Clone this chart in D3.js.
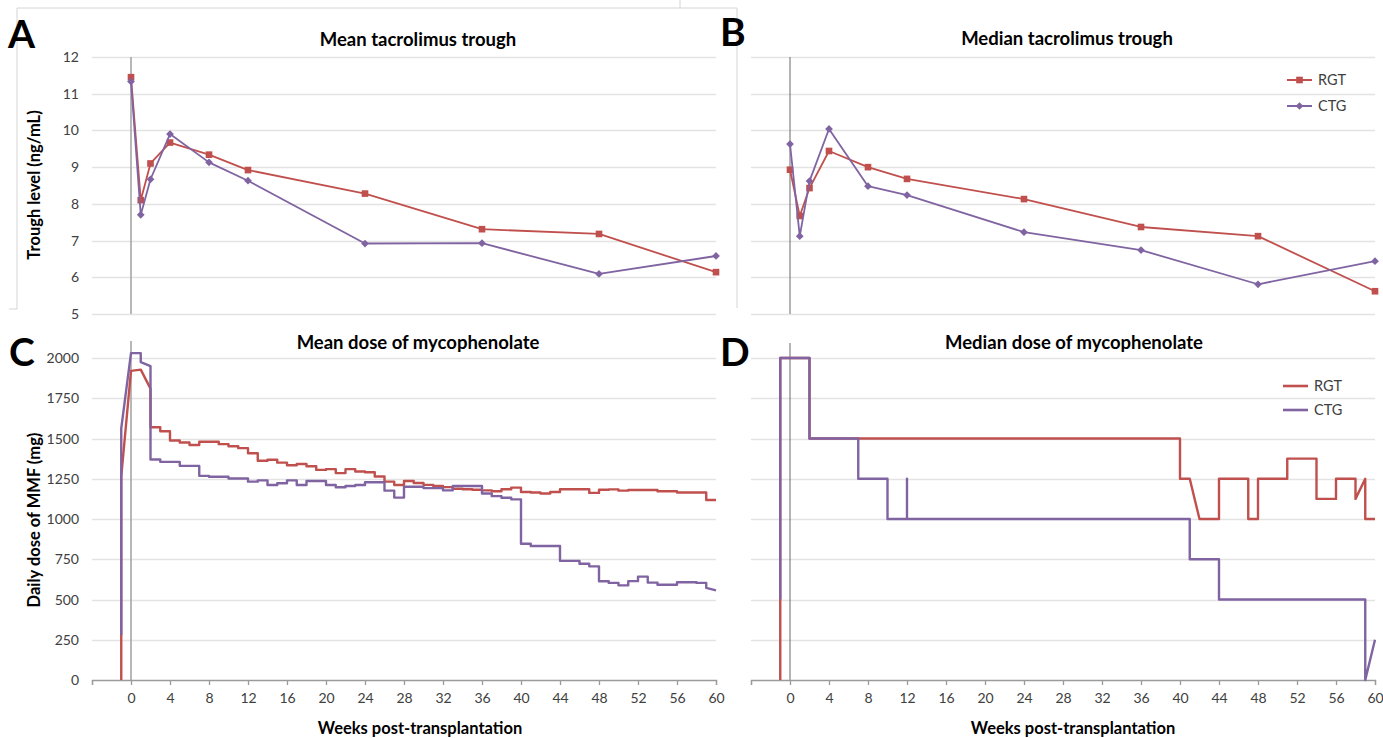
<!DOCTYPE html>
<html>
<head>
<meta charset="utf-8">
<script src="https://cdn.jsdelivr.net/npm/d3@7"></script>
<style>
  body { margin: 0; background: #fff; }
  text { font-family: Lato, "Open Sans", sans-serif; }
</style>
</head>
<body>
<div id="chart"></div>
<script>
// trough data (weeks post-transplantation)
const troughWeeks = [0, 1, 2, 4, 8, 12, 24, 36, 48, 60];
const rgtMeanTrough = [11.45, 8.1, 9.1, 9.67, 9.34, 8.92, 8.28, 7.31, 7.18, 6.14];
const ctgMeanTrough = [11.33, 7.7, 8.67, 9.9, 9.13, 8.63, 6.92, 6.93, 6.09, 6.58];
const rgtMedianTrough = [8.93, 7.67, 8.43, 9.44, 9.0, 8.68, 8.13, 7.37, 7.12, 5.62];
const ctgMedianTrough = [9.63, 7.12, 8.62, 10.04, 8.48, 8.24, 7.23, 6.74, 5.81, 6.44];
const troughTicks = [5, 6, 7, 8, 9, 10, 11, 12];

// mean MMF dose: first weeks as points, then one value per week (week 2 .. 58)
const rgtMeanDoseHead = [[-1, 0], [-1, 1265], [0, 1920], [1, 1928], [2, 1810]];
const ctgMeanDoseHead = [[-1, 280], [-1, 1563], [0, 2030], [1, 2030], [1, 1975], [2, 1950]];
const rgtMeanDoseWeekly = [1570, 1545, 1488, 1475, 1460, 1480, 1480, 1465, 1452, 1440, 1408, 1362, 1368, 1350, 1334, 1342, 1328, 1305, 1310, 1285,
  1310, 1295, 1290, 1264, 1232, 1211, 1236, 1224, 1212, 1205, 1198, 1188, 1185, 1182, 1178, 1172, 1185, 1195, 1168, 1165,
  1158, 1168, 1185, 1185, 1185, 1162, 1182, 1184, 1176, 1180, 1180, 1180, 1172, 1172, 1165, 1165, 1165];
const ctgMeanDoseWeekly = [1370, 1355, 1355, 1330, 1330, 1268, 1262, 1262, 1252, 1252, 1232, 1240, 1211, 1222, 1240, 1211, 1236, 1236, 1211, 1197,
  1205, 1211, 1228, 1228, 1176, 1133, 1200, 1200, 1192, 1192, 1178, 1205, 1205, 1205, 1158, 1142, 1132, 1122, 846, 832,
  832, 832, 740, 740, 722, 706, 613, 603, 588, 614, 642, 605, 592, 592, 607, 607, 603];
const rgtMeanDoseTail = [[59, 1118], [60, 1118]];
const ctgMeanDoseTail = [[59, 572], [60, 557]];

// median MMF dose
const rgtMedianDoseWeeks = [-1, -1, 2, 2, 40, 40, 41, 42, 44, 44, 47, 47, 48, 48, 51, 51, 54, 54, 56, 56, 58, 58, 59, 59, 60];
const rgtMedianDose = [0, 2000, 2000, 1500, 1500, 1250, 1250, 1000, 1000, 1250, 1250, 1000, 1000, 1250, 1250, 1375, 1375, 1125, 1125, 1250, 1250, 1125, 1250, 1000, 1000];
const ctgMedianDoseWeeks = [-1, -1, 2, 2, 7, 7, 10, 10, 12, 12, 12, 41, 41, 44, 44, 59, 59, 60];
const ctgMedianDose = [500, 2000, 2000, 1500, 1500, 1250, 1250, 1000, 1000, 1250, 1000, 1000, 750, 750, 500, 500, 0, 250];
const doseTicks = [0, 250, 500, 750, 1000, 1250, 1500, 1750, 2000];
const weekTicks = [-4, 0, 4, 8, 12, 16, 20, 24, 28, 32, 36, 40, 44, 48, 52, 56, 60];

const RED = "#c0504d", PURPLE = "#8064a2";

const svg = d3.select("#chart").append("svg")
  .attr("width", 1383).attr("height", 738)
  .style("background", "#fff");

// faint frame lines around panel A
const frame = svg.append("g").attr("stroke", "#d4d4d4").attr("fill", "none");
frame.append("path").attr("d", "M17,309 V8 H737 V308");
frame.append("path").attr("d", "M9,309 H17");
frame.append("path").attr("d", "M680,0 V8");

const xLeft = d3.scaleLinear().domain([-4, 60]).range([92, 716]);
const xRight = d3.scaleLinear().domain([-4, 60]).range([751, 1375]);
const yTrough = d3.scaleLinear().domain([5, 12]).range([314, 57]);
const yDose = d3.scaleLinear().domain([0, 2000]).range([680, 358]);

function stepPoints(head, weekly, tail) {
  let pts = head.slice();
  weekly.forEach((v, i) => {
    let w = 2 + i;
    pts.push([w, v], [w + 1, v]);
  });
  return pts.concat(tail);
}

function zip(weeks, vals) {
  return weeks.map((w, i) => [w, vals[i]]);
}

function grid(x, y, ticks) {
  svg.append("g").selectAll("line").data(ticks).enter().append("line")
    .attr("x1", x.range()[0]).attr("x2", x.range()[1])
    .attr("y1", d => Math.round(y(d)) + 0.5).attr("y2", d => Math.round(y(d)) + 0.5)
    .attr("stroke", "#e3e3e3").attr("stroke-width", 1.3);
}

function yLabels(y, ticks) {
  svg.append("g").selectAll("text").data(ticks).enter().append("text")
    .attr("x", 79).attr("y", d => y(d)).attr("dy", "0.36em")
    .attr("text-anchor", "end").attr("font-size", 14).attr("fill", "#404040")
    .text(d => d);
}

function zeroLine(x, y1, y2, color, w) {
  svg.append("line").attr("x1", x(0)).attr("x2", x(0)).attr("y1", y1).attr("y2", y2)
    .attr("stroke", color).attr("stroke-width", w);
}

function xAxis(x) {
  let g = svg.append("g").attr("transform", "translate(0," + yDose(0) + ")")
    .call(d3.axisBottom(x).tickValues(weekTicks).tickSizeOuter(0).tickSize(5).tickPadding(8)
      .tickFormat(d => d < 0 ? "" : d));
  g.select(".domain").attr("stroke", "#9a9a9a").attr("stroke-width", 1.3);
  g.selectAll(".tick line").attr("stroke", "#9a9a9a").attr("stroke-width", 1.3);
  g.selectAll(".tick text").attr("font-size", 14).attr("fill", "#404040")
    .attr("font-family", "Lato, sans-serif");
}

function series(x, y, pts, color, width, marker) {
  svg.append("path").datum(pts)
    .attr("fill", "none").attr("stroke", color).attr("stroke-width", width)
    .attr("stroke-linejoin", "round")
    .attr("d", d3.line().x(d => x(d[0])).y(d => y(d[1])));
  if (marker) {
    svg.append("g").selectAll("path").data(pts).enter().append("path")
      .attr("d", marker === "square" ? d3.symbol(d3.symbolSquare, 44)() : d3.symbol(d3.symbolSquare, 30)())
      .attr("transform", d => "translate(" + x(d[0]) + "," + y(d[1]) + ")" + (marker === "diamond" ? " rotate(45)" : ""))
      .attr("fill", color);
  }
}

function title(txt, cx, yy) {
  svg.append("text").attr("x", cx).attr("y", yy).attr("text-anchor", "middle")
    .attr("font-size", 18.5).attr("font-weight", "bold").attr("fill", "#000").text(txt);
}

function letter(txt, x, y) {
  svg.append("text").attr("x", x).attr("y", y)
    .attr("font-family", "'Liberation Sans', Arial, sans-serif")
    .attr("font-size", 39).attr("font-weight", "bold").attr("fill", "#000").text(txt);
}

function legend(x, y, withMarkers) {
  [["RGT", RED, "square"], ["CTG", PURPLE, "diamond"]].forEach((it, i) => {
    let yy = y[i];
    svg.append("line").attr("x1", x).attr("x2", x + 25).attr("y1", yy).attr("y2", yy)
      .attr("stroke", it[1]).attr("stroke-width", withMarkers ? 2 : 2.6);
    if (withMarkers) {
      svg.append("path")
        .attr("d", it[2] === "square" ? d3.symbol(d3.symbolSquare, 44)() : d3.symbol(d3.symbolSquare, 30)())
        .attr("transform", "translate(" + (x + 12.5) + "," + yy + ")" + (it[2] === "diamond" ? " rotate(45)" : ""))
        .attr("fill", it[1]);
    }
    svg.append("text").attr("x", x + 31).attr("y", yy).attr("dy", "0.36em")
      .attr("font-size", 14.5).attr("fill", "#404040").text(it[0]);
  });
}

// ---- Panel A
grid(xLeft, yTrough, troughTicks);
yLabels(yTrough, troughTicks);
zeroLine(xLeft, 57, 314, "#a6a6a6", 1.6);
series(xLeft, yTrough, zip(troughWeeks, rgtMeanTrough), RED, 1.8, "square");
series(xLeft, yTrough, zip(troughWeeks, ctgMeanTrough), PURPLE, 1.8, "diamond");
title("Mean tacrolimus trough", 418, 46);
letter("A", 8, 48);
svg.append("text").attr("transform", "translate(40,185) rotate(-90)").attr("text-anchor", "middle")
  .attr("font-size", 16.5).attr("font-weight", "bold").text("Trough level (ng/mL)");

// ---- Panel B
grid(xRight, yTrough, troughTicks);
zeroLine(xRight, 57, 314, "#6a6a6a", 1);
series(xRight, yTrough, zip(troughWeeks, rgtMedianTrough), RED, 1.8, "square");
series(xRight, yTrough, zip(troughWeeks, ctgMedianTrough), PURPLE, 1.8, "diamond");
title("Median tacrolimus trough", 1067, 45);
letter("B", 720, 46);
legend(1287, [80, 106], true);

// ---- Panel C
grid(xLeft, yDose, doseTicks.slice(1));
yLabels(yDose, doseTicks);
zeroLine(xLeft, 341, 680, "#a6a6a6", 1.6);
xAxis(xLeft);
series(xLeft, yDose, stepPoints(rgtMeanDoseHead, rgtMeanDoseWeekly, rgtMeanDoseTail), RED, 2.4);
series(xLeft, yDose, stepPoints(ctgMeanDoseHead, ctgMeanDoseWeekly, ctgMeanDoseTail), PURPLE, 2.4);
title("Mean dose of mycophenolate", 418, 349);
letter("C", 9, 366);
svg.append("text").attr("transform", "translate(40,520) rotate(-90)").attr("text-anchor", "middle")
  .attr("font-size", 16.5).attr("font-weight", "bold").text("Daily dose of MMF (mg)");
svg.append("text").attr("x", 420).attr("y", 734).attr("text-anchor", "middle")
  .attr("font-size", 16.5).attr("font-weight", "bold").text("Weeks post-transplantation");

// ---- Panel D
grid(xRight, yDose, doseTicks.slice(1));
zeroLine(xRight, 343, 680, "#6a6a6a", 1);
xAxis(xRight);
series(xRight, yDose, zip(rgtMedianDoseWeeks, rgtMedianDose), RED, 2.4);
series(xRight, yDose, zip(ctgMedianDoseWeeks, ctgMedianDose), PURPLE, 2.4);
title("Median dose of mycophenolate", 1074, 349);
letter("D", 720, 366);
legend(1283, [386, 410], false);
svg.append("text").attr("x", 1073).attr("y", 734).attr("text-anchor", "middle")
  .attr("font-size", 16.5).attr("font-weight", "bold").text("Weeks post-transplantation");
</script>
</body>
</html>
